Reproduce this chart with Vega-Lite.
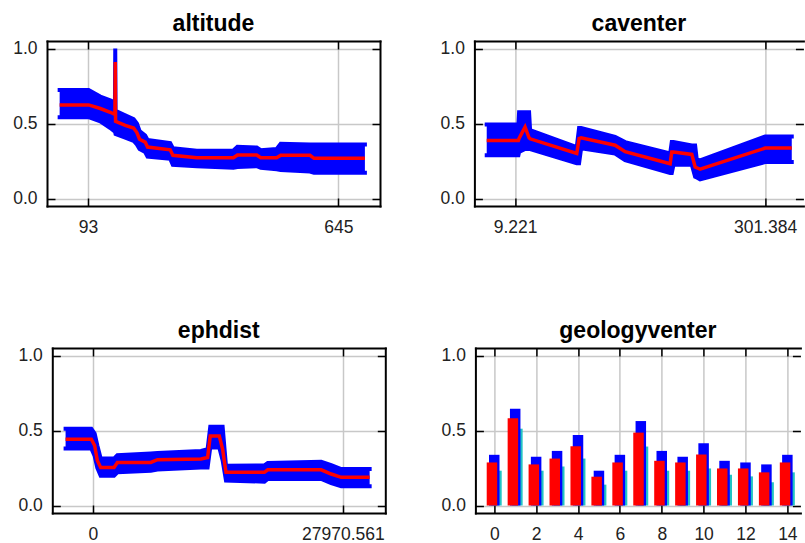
{
  "$schema": "https://vega.github.io/schema/vega-lite/v6.json",
  "padding": {"left": 12, "top": 12, "right": 0, "bottom": 0},
  "spacing": 83,
  "config": {
    "view": {"stroke": null},
    "font": "Liberation Sans",
    "axis": {
      "labelFont": "Liberation Sans", "labelFontSize": 17.5, "labelColor": "#222222",
      "domainColor": "#000000", "domainWidth": 2, "domainCap": "square",
      "tickColor": "#000000", "tickWidth": 1.5, "tickSize": -8,
      "gridColor": "#c8c8c8", "gridWidth": 1.5, "labelPadding": 18,
      "labelFlush": false, "labelBound": false, "labelOverlap": false
    },
    "axisX": {"labelPadding": 20},
    "title": {"font": "Liberation Sans", "fontSize": 23, "fontWeight": "bold", "color": "#000000", "offset": 4}
  },
  "datasets": {
    "alt": [
      {"x": 30.6, "est": 0.624, "hi": 0.723, "lo": 0.542},
      {"x": 94.5, "est": 0.624, "hi": 0.723, "lo": 0.542},
      {"x": 120.2, "est": 0.600, "hi": 0.680, "lo": 0.515},
      {"x": 142.2, "est": 0.575, "hi": 0.655, "lo": 0.470},
      {"x": 152.5, "est": 0.560, "hi": 0.640, "lo": 0.445},
      {"x": 153.2, "est": 0.910, "hi": 1.0, "lo": 0.440},
      {"x": 153.9, "est": 0.515, "hi": 0.585, "lo": 0.430},
      {"x": 175.2, "est": 0.488, "hi": 0.555, "lo": 0.405},
      {"x": 193.6, "est": 0.470, "hi": 0.530, "lo": 0.385},
      {"x": 200.9, "est": 0.440, "hi": 0.500, "lo": 0.360},
      {"x": 206.8, "est": 0.395, "hi": 0.450, "lo": 0.330},
      {"x": 219.2, "est": 0.376, "hi": 0.420, "lo": 0.310},
      {"x": 224.4, "est": 0.343, "hi": 0.390, "lo": 0.280},
      {"x": 274.3, "est": 0.325, "hi": 0.370, "lo": 0.265},
      {"x": 280.2, "est": 0.288, "hi": 0.335, "lo": 0.225},
      {"x": 333.0, "est": 0.272, "hi": 0.318, "lo": 0.215},
      {"x": 413.8, "est": 0.272, "hi": 0.320, "lo": 0.205},
      {"x": 422.6, "est": 0.290, "hi": 0.345, "lo": 0.210},
      {"x": 465.1, "est": 0.290, "hi": 0.340, "lo": 0.215},
      {"x": 474.0, "est": 0.272, "hi": 0.322, "lo": 0.205},
      {"x": 509.2, "est": 0.272, "hi": 0.330, "lo": 0.195},
      {"x": 518.0, "est": 0.288, "hi": 0.365, "lo": 0.190},
      {"x": 582.6, "est": 0.288, "hi": 0.360, "lo": 0.180},
      {"x": 591.4, "est": 0.268, "hi": 0.360, "lo": 0.172},
      {"x": 703.7, "est": 0.268, "hi": 0.360, "lo": 0.172}
    ],
    "cav": [
      {"x": -23.9, "est": 0.387, "hi": 0.493, "lo": 0.288},
      {"x": 13.1, "est": 0.387, "hi": 0.493, "lo": 0.288},
      {"x": 13.9, "est": 0.400, "hi": 0.575, "lo": 0.310},
      {"x": 20.9, "est": 0.476, "hi": 0.575, "lo": 0.330},
      {"x": 25.6, "est": 0.405, "hi": 0.575, "lo": 0.330},
      {"x": 26.8, "est": 0.398, "hi": 0.455, "lo": 0.330},
      {"x": 81.3, "est": 0.300, "hi": 0.343, "lo": 0.235},
      {"x": 84.0, "est": 0.400, "hi": 0.470, "lo": 0.235},
      {"x": 86.4, "est": 0.405, "hi": 0.470, "lo": 0.335},
      {"x": 126.1, "est": 0.355, "hi": 0.410, "lo": 0.300},
      {"x": 137.8, "est": 0.312, "hi": 0.376, "lo": 0.255},
      {"x": 190.4, "est": 0.232, "hi": 0.300, "lo": 0.170},
      {"x": 192.3, "est": 0.310, "hi": 0.376, "lo": 0.170},
      {"x": 194.3, "est": 0.310, "hi": 0.376, "lo": 0.225},
      {"x": 215.7, "est": 0.294, "hi": 0.354, "lo": 0.225},
      {"x": 219.6, "est": 0.210, "hi": 0.354, "lo": 0.145},
      {"x": 221.5, "est": 0.205, "hi": 0.260, "lo": 0.140},
      {"x": 225.4, "est": 0.195, "hi": 0.254, "lo": 0.128},
      {"x": 301.4, "est": 0.336, "hi": 0.414, "lo": 0.243},
      {"x": 332.5, "est": 0.336, "hi": 0.414, "lo": 0.243}
    ],
    "eph": [
      {"x": -3066, "est": 0.442, "hi": 0.512, "lo": 0.380},
      {"x": -187, "est": 0.442, "hi": 0.512, "lo": 0.380},
      {"x": 187, "est": 0.400, "hi": 0.480, "lo": 0.330},
      {"x": 486, "est": 0.300, "hi": 0.400, "lo": 0.250},
      {"x": 860, "est": 0.254, "hi": 0.313, "lo": 0.199},
      {"x": 2356, "est": 0.254, "hi": 0.313, "lo": 0.199},
      {"x": 2730, "est": 0.287, "hi": 0.336, "lo": 0.221},
      {"x": 6469, "est": 0.287, "hi": 0.347, "lo": 0.232},
      {"x": 7217, "est": 0.305, "hi": 0.350, "lo": 0.240},
      {"x": 12078, "est": 0.310, "hi": 0.364, "lo": 0.254},
      {"x": 12826, "est": 0.320, "hi": 0.375, "lo": 0.254},
      {"x": 13125, "est": 0.464, "hi": 0.525, "lo": 0.386},
      {"x": 14135, "est": 0.464, "hi": 0.525, "lo": 0.386},
      {"x": 14509, "est": 0.375, "hi": 0.525, "lo": 0.300},
      {"x": 14883, "est": 0.221, "hi": 0.265, "lo": 0.166},
      {"x": 19183, "est": 0.221, "hi": 0.268, "lo": 0.159},
      {"x": 19557, "est": 0.238, "hi": 0.283, "lo": 0.177},
      {"x": 25540, "est": 0.238, "hi": 0.291, "lo": 0.177},
      {"x": 26662, "est": 0.210, "hi": 0.269, "lo": 0.150},
      {"x": 27784, "est": 0.188, "hi": 0.243, "lo": 0.128},
      {"x": 30962, "est": 0.188, "hi": 0.243, "lo": 0.128}
    ],
    "geo": [
      {"cat": 0, "est": 0.287, "hi": 0.338, "lo": 0.232},
      {"cat": 1, "est": 0.581, "hi": 0.645, "lo": 0.512},
      {"cat": 2, "est": 0.274, "hi": 0.325, "lo": 0.232},
      {"cat": 3, "est": 0.313, "hi": 0.364, "lo": 0.260},
      {"cat": 4, "est": 0.395, "hi": 0.470, "lo": 0.313},
      {"cat": 5, "est": 0.192, "hi": 0.232, "lo": 0.139},
      {"cat": 6, "est": 0.287, "hi": 0.338, "lo": 0.232},
      {"cat": 7, "est": 0.486, "hi": 0.563, "lo": 0.393},
      {"cat": 8, "est": 0.298, "hi": 0.364, "lo": 0.232},
      {"cat": 9, "est": 0.287, "hi": 0.325, "lo": 0.232},
      {"cat": 10, "est": 0.340, "hi": 0.415, "lo": 0.247},
      {"cat": 11, "est": 0.247, "hi": 0.298, "lo": 0.205},
      {"cat": 12, "est": 0.247, "hi": 0.287, "lo": 0.194},
      {"cat": 13, "est": 0.221, "hi": 0.274, "lo": 0.155},
      {"cat": 14, "est": 0.287, "hi": 0.338, "lo": 0.221}
    ]
  },
  "vconcat": [
    {
      "spacing": 58.4,
      "hconcat": [
        {
          "width": 333, "height": 165, "title": "altitude",
          "data": {"name": "alt"},
          "resolve": {"axis": {"x": "independent", "y": "independent"}},
          "layer": [
            {"mark": {"type": "area", "color": "#0000ff", "opacity": 1},
             "encoding": {
               "x": {"field": "x", "type": "quantitative", "scale": {"domain": [2.7, 737], "nice": false, "zero": false},
                     "axis": {"orient": "bottom", "values": [93, 645], "format": "d", "title": null, "grid": true}},
               "y": {"field": "hi", "type": "quantitative", "scale": {"domain": [-0.05, 1.05], "nice": false, "zero": false},
                     "axis": {"orient": "left", "values": [0, 0.5, 1], "format": ".1f", "title": null, "grid": true}},
               "y2": {"field": "lo"}}},
            {"mark": {"type": "line", "color": "#0000ff", "strokeWidth": 4, "strokeCap": "square"},
             "encoding": {"x": {"field": "x", "type": "quantitative", "axis": null}, "y": {"field": "hi", "type": "quantitative", "axis": null}}},
            {"mark": {"type": "line", "color": "#0000ff", "strokeWidth": 4, "strokeCap": "square"},
             "encoding": {"x": {"field": "x", "type": "quantitative", "axis": null}, "y": {"field": "lo", "type": "quantitative", "axis": null}}},
            {"mark": {"type": "line", "color": "#ff0000", "strokeWidth": 3.5},
             "encoding": {
               "x": {"field": "x", "type": "quantitative", "axis": {"orient": "top", "values": [93, 645], "labels": false, "grid": false, "title": null}},
               "y": {"field": "est", "type": "quantitative", "axis": {"orient": "right", "values": [0, 0.5, 1], "labels": false, "grid": false, "title": null}}}}
          ]
        },
        {
          "width": 329, "height": 165, "title": "caventer",
          "data": {"name": "cav"},
          "resolve": {"axis": {"x": "independent", "y": "independent"}},
          "layer": [
            {"mark": {"type": "area", "color": "#0000ff", "opacity": 1},
             "encoding": {
               "x": {"field": "x", "type": "quantitative", "scale": {"domain": [-38.3, 346.1], "nice": false, "zero": false},
                     "axis": {"orient": "bottom", "values": [9.221, 301.384], "format": ".3f", "title": null, "grid": true}},
               "y": {"field": "hi", "type": "quantitative", "scale": {"domain": [-0.05, 1.05], "nice": false, "zero": false},
                     "axis": {"orient": "left", "values": [0, 0.5, 1], "format": ".1f", "title": null, "grid": true}},
               "y2": {"field": "lo"}}},
            {"mark": {"type": "line", "color": "#0000ff", "strokeWidth": 4, "strokeCap": "square"},
             "encoding": {"x": {"field": "x", "type": "quantitative", "axis": null}, "y": {"field": "hi", "type": "quantitative", "axis": null}}},
            {"mark": {"type": "line", "color": "#0000ff", "strokeWidth": 4, "strokeCap": "square"},
             "encoding": {"x": {"field": "x", "type": "quantitative", "axis": null}, "y": {"field": "lo", "type": "quantitative", "axis": null}}},
            {"mark": {"type": "line", "color": "#ff0000", "strokeWidth": 3.5},
             "encoding": {
               "x": {"field": "x", "type": "quantitative", "axis": {"orient": "top", "values": [9.221, 301.384], "labels": false, "grid": false, "title": null}},
               "y": {"field": "est", "type": "quantitative", "axis": {"orient": "right", "values": [0, 0.5, 1], "labels": false, "grid": false, "domain": false, "title": null}}}}
          ]
        }
      ]
    },
    {
      "spacing": 53.4,
      "hconcat": [
        {
          "width": 338.3, "height": 165, "title": {"text": "ephdist", "dx": 2.6},
          "data": {"name": "eph"},
          "resolve": {"axis": {"x": "independent", "y": "independent"}},
          "layer": [
            {"mark": {"type": "area", "color": "#0000ff", "opacity": 1},
             "encoding": {
               "x": {"field": "x", "type": "quantitative", "scale": {"domain": [-4553, 32714], "range": [5.3, 338.3], "nice": false, "zero": false},
                     "axis": {"orient": "bottom", "values": [0, 27970.561], "labelExpr": "datum.value == 0 ? '0' : format(datum.value, '.3f')", "title": null, "grid": true}},
               "y": {"field": "hi", "type": "quantitative", "scale": {"domain": [-0.05, 1.05], "nice": false, "zero": false},
                     "axis": {"orient": "left", "offset": -5.3, "values": [0, 0.5, 1], "format": ".1f", "title": null, "grid": true}},
               "y2": {"field": "lo"}}},
            {"mark": {"type": "line", "color": "#0000ff", "strokeWidth": 4, "strokeCap": "square"},
             "encoding": {"x": {"field": "x", "type": "quantitative", "axis": null}, "y": {"field": "hi", "type": "quantitative", "axis": null}}},
            {"mark": {"type": "line", "color": "#0000ff", "strokeWidth": 4, "strokeCap": "square"},
             "encoding": {"x": {"field": "x", "type": "quantitative", "axis": null}, "y": {"field": "lo", "type": "quantitative", "axis": null}}},
            {"mark": {"type": "line", "color": "#ff0000", "strokeWidth": 3.5},
             "encoding": {
               "x": {"field": "x", "type": "quantitative", "axis": {"orient": "top", "values": [0, 27970.561], "labels": false, "grid": false, "title": null}},
               "y": {"field": "est", "type": "quantitative", "axis": {"orient": "right", "values": [0, 0.5, 1], "labels": false, "grid": false, "title": null}}}}
          ]
        },
        {
          "width": 325, "height": 165, "title": "geologyventer",
          "data": {"name": "geo"},
          "resolve": {"axis": {"x": "independent", "y": "independent"}},
          "layer": [
            {"mark": {"type": "bar", "color": "#22c4c4", "width": 10.5, "xOffset": 2.2},
             "encoding": {
               "x": {"field": "cat", "type": "quantitative", "scale": {"domain": [-0.662, 14.384], "nice": false, "zero": false},
                     "axis": {"orient": "bottom", "values": [0, 2, 4, 6, 8, 10, 12, 14], "format": "d", "title": null, "grid": true}},
               "y": {"field": "lo", "type": "quantitative", "scale": {"domain": [-0.05, 1.05], "nice": false, "zero": false},
                     "axis": {"orient": "left", "values": [0, 0.5, 1], "format": ".1f", "title": null, "grid": true}},
               "y2": {"datum": 0}}},
            {"mark": {"type": "bar", "color": "#0000ff", "width": 10.5, "xOffset": 0},
             "encoding": {
               "x": {"field": "cat", "type": "quantitative", "axis": null},
               "y": {"field": "hi", "type": "quantitative", "axis": null},
               "y2": {"datum": 0}}},
            {"mark": {"type": "bar", "color": "#ff0000", "width": 10.5, "xOffset": -2.3},
             "encoding": {
               "x": {"field": "cat", "type": "quantitative", "axis": {"orient": "top", "values": [0, 2, 4, 6, 8, 10, 12, 14], "labels": false, "grid": false, "title": null}},
               "y": {"field": "est", "type": "quantitative", "axis": {"orient": "right", "values": [0, 0.5, 1], "labels": false, "grid": false, "domain": false, "title": null}},
               "y2": {"datum": 0}}}
          ]
        }
      ]
    }
  ]
}
